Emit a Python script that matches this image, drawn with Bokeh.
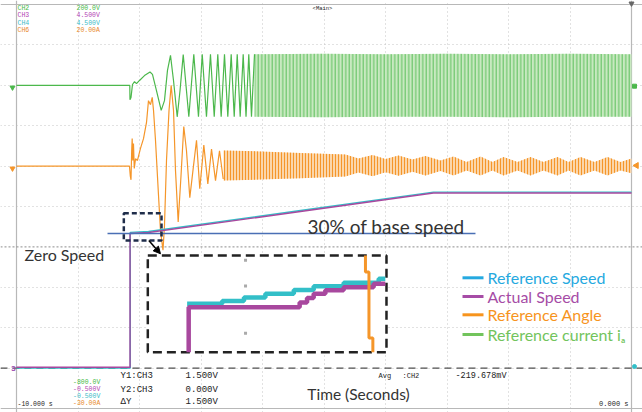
from bokeh.plotting import figure
from bokeh.models import Range1d, Label, Arrow, NormalHead, Span, Grid, FixedTicker
from bokeh.embed import file_html
from bokeh.resources import INLINE

# ---------------- scope settings ----------------
T_RANGE = (-10.0, 0.0)          # s, full screen
CH2_LIMITS = (-800.0, 200.0)    # V  (lower, upper)
SPD_LIMITS = (-0.5, 4.5)        # V  CH3 / CH4 (lower, upper)
CH6_LIMITS = (-30.0, 20.0)      # A  (lower, upper)
N_DIV = 10
GRID_T = [-9, -8, -7, -6, -5, -4, -3, -2, -1]
GRID_DIV = [1, 2, 3, 5, 6, 7, 8, 9]
CURSOR_Y1 = 1.5
CURSOR_Y2 = 0.0

# ---------------- CH2 (green) ----------------
G_T = [-10.0, -8.158, -8.155, -8.138, -8.114, -8.081, -8.049, -8.000, -7.919, -7.829,
       -7.789, -7.724, -7.647, -7.594, -7.545, -7.496, -7.447, -7.387, -7.341, -7.289,
       -7.198, -7.117, -7.041, -6.980, -6.911, -6.846, -6.785, -6.727, -6.672, -6.618,
       -6.564, -6.509, -6.460, -6.411, -6.363, -6.314, -6.268, -6.223, -6.179, -6.130]
G_V = [0, 0, -36, -30, 2, 9, 4, 12, 24, 33,
       27, -13, -62, -38, 37, 74, 12, -78, -13, 76,
       -78, 77, -78, 77, -78, 77, -78, 77, -78, 77,
       -78, 77, -78, 77, -78, 77, -78, 77, -78, 77]
G_BAND_T = [-6.130, -5.0, -4.0, -3.0, -2.0, -1.0, 0.0]
G_BAND_HI = [77, 78, 77, 78, 77, 78, 77]
G_BAND_LO = [-78, -79, -78, -78, -79, -78, -78]

# ---------------- CH6 (orange) ----------------
O_T = [-10.0, -8.163, -8.150, -8.138, -8.127, -8.119, -8.109, -8.098, -8.085, -8.065,
       -8.033, -7.984, -7.935, -7.886, -7.854, -7.821, -7.793, -7.772, -7.740, -7.691,
       -7.659, -7.618, -7.594, -7.561, -7.520, -7.485, -7.447, -7.415, -7.371, -7.325,
       -7.280, -7.236, -7.182, -7.130, -7.073, -7.020, -6.954, -6.889, -6.829, -6.764,
       -6.699, -6.639]
O_A = [0, 0, -1.2, -1.7, 1.9, 3.4, 0.7, 2.8, -0.3, 0.9,
       0.7, 2.2, 3.4, 5.4, 8.1, 7.6, 8.5, 6.9, 3.2, -3.6,
       -8.0, -10.4, -7.4, 0.7, 6.9, 10.0, 6.9, -0.5, -6.9, -1.2,
       4.9, 1.9, -3.9, -0.5, 3.2, -2.8, 2.6, -2.2, 2.1, -1.8,
       1.9, -1.6]
O_BAND_T = [-6.634, -6.033, -5.382, -4.650, -4.439, -4.211, -4.000, -3.789, -3.561, -3.350,
            -3.106, -2.894, -2.683, -2.455, -2.260, -2.081, -1.854, -1.642, -1.431, -1.203,
            -1.024, -0.829, -0.602, -0.390, -0.179, 0.0]
O_BAND_HI = [1.93, 1.81, 1.62, 1.44, 0.94, 1.37, 0.88, 1.31, 0.82, 1.25,
             0.69, 1.19, 0.51, 1.19, 0.51, 1.13, 0.51, 1.13, 0.51, 1.13,
             0.51, 1.13, 0.51, 1.13, 0.51, 0.94]
O_BAND_LO = [-1.78, -1.66, -1.49, -1.30, -0.80, -1.25, -0.75, -1.20, -0.70, -1.17,
             -0.60, -1.16, -0.55, -1.16, -0.55, -1.16, -0.55, -1.16, -0.55, -1.16,
             -0.55, -1.16, -0.55, -1.16, -0.55, -0.90]

# ---------------- speed (CH3 actual, CH4 reference) ----------------
ACT_T = [-10.0, -8.154, -8.154, -7.854, -5.382, -3.220, 0.0]
ACT_V = [0.01, 0.01, 1.666, 1.678, 1.938, 2.167, 2.167]
REF_T = [-10.0, -8.150, -8.150, -7.854, -5.382, -3.220, 0.0]
REF_V = [0.0, 0.0, 1.680, 1.690, 1.950, 2.178, 2.178]
BASE30_T = (-8.520, -2.537)
BASE30_V = 1.666

# ---------------- zoom window and inset ----------------
ZOOM_T = (-8.255, -7.642)
ZOOM_V = (1.579, 1.917)
INSET_T = (-7.865, -3.984)
INSET_V = (0.197, 1.394)
ARROW_FROM = (-7.849, 1.579)
ARROW_TO = (-7.659, 1.415)

IN_REF_T = [-8.154, -8.064, -8.008, -7.953, -7.880, -7.829, -7.752, -7.662, -7.645]
IN_REF_V = [1.748, 1.758, 1.770, 1.783, 1.796, 1.809, 1.822, 1.836, 1.836]
IN_ACT_T = [-8.150, -8.150, -7.865, -7.846, -7.829, -7.799, -7.752, -7.675, -7.645]
IN_ACT_V = [1.579, 1.736, 1.753, 1.768, 1.783, 1.795, 1.806, 1.818, 1.818]
IN_ANG_T = [-7.696, -7.696, -7.687, -7.687, -7.677, -7.677]
IN_ANG_V = [1.917, 1.859, 1.859, 1.629, 1.629, 1.579]
IN_DOT_T = [-8.004, -8.004, -8.004]
IN_DOT_V = [1.900, 1.810, 1.645]

LEGEND_LABELS = ["Reference Speed", "Actual Speed", "Reference Angle", "Reference current i\u2090"]
LEGEND_COLORS = ["#25A9E0", "#A64CA6", "#F7941D", "#72C45C"]

C_GREEN = "#4cb84c"
C_ORANGE = "#f5962a"
C_PURPLE = "#a8489e"
C_CYAN = "#33bfc8"

# ---------------- layout helpers (reference pixels -> data) ----------------
W, H = 642, 412
PX_L, PX_R, PX_T, PX_B = 16, 631, 4, 408


def tx(px):
    return T_RANGE[0] + (px - PX_L) * (T_RANGE[1] - T_RANGE[0]) / (PX_R - PX_L)


def dy(py):
    return (PX_B - py) * N_DIV / (PX_B - PX_T)


def lin(v, a0, a1, b0, b1):
    return b0 + (v - a0) * (b1 - b0) / (a1 - a0)


x_range = Range1d(tx(0), tx(W))
y_range = Range1d(dy(H), dy(0))


def chan_range(lims):
    lo, hi = lims
    return Range1d(lo + y_range.start * (hi - lo) / N_DIV, lo + y_range.end * (hi - lo) / N_DIV)


spd_range = chan_range(SPD_LIMITS)
ix_range = Range1d(lin(x_range.start, *INSET_T, *ZOOM_T), lin(x_range.end, *INSET_T, *ZOOM_T))
iy_range = Range1d(lin(spd_range.start, *INSET_V, *ZOOM_V), lin(spd_range.end, *INSET_V, *ZOOM_V))

p = figure(width=W, height=H, output_backend="svg", toolbar_location=None,
           x_range=x_range, y_range=y_range, min_border=0,
           x_axis_location=None, y_axis_location=None, outline_line_color=None,
           background_fill_color="white", border_fill_color="white")
p.grid.visible = False
p.extra_y_ranges = {"ch2": chan_range(CH2_LIMITS), "ch6": chan_range(CH6_LIMITS),
                    "spd": spd_range, "iy": iy_range}
p.extra_x_ranges = {"ix": ix_range}

# grid
p.add_layout(Grid(dimension=0, ticker=FixedTicker(ticks=GRID_T), grid_line_color="#c4c4c4",
                  grid_line_dash="1 3", grid_line_width=1))
p.add_layout(Grid(dimension=1, ticker=FixedTicker(ticks=GRID_DIV), grid_line_color="#c4c4c4",
                  grid_line_dash="1 3", grid_line_width=1))
# frame borders
for loc in T_RANGE:
    p.add_layout(Span(location=loc, dimension="height", line_color="#b8b8b8", line_width=1.2, level="underlay"))
for loc in (0, N_DIV):
    p.add_layout(Span(location=loc, dimension="width", line_color="#b8b8b8", line_width=1.2, level="underlay"))
# cursors
p.add_layout(Span(location=CURSOR_Y1, dimension="width", y_range_name="spd", line_color="#8c8c8c",
                  line_dash="2 2", line_width=1, level="underlay"))
p.add_layout(Span(location=CURSOR_Y2, dimension="width", y_range_name="spd", line_color="#505050",
                  line_dash="7 5", line_width=1.2, level="underlay"))

# green trace
p.varea(x=G_BAND_T, y1=G_BAND_LO, y2=G_BAND_HI, y_range_name="ch2", fill_color="#c8e9c0",
        hatch_pattern="|", hatch_color="#5cbf5c", hatch_scale=3.5, hatch_weight=1.0)
p.line(G_T, G_V, y_range_name="ch2", line_color=C_GREEN, line_width=1.2)

# orange trace
p.varea(x=O_BAND_T, y1=O_BAND_LO, y2=O_BAND_HI, y_range_name="ch6", fill_color="#fbd6aa",
        hatch_pattern="|", hatch_color=C_ORANGE, hatch_scale=3, hatch_weight=1.0)
p.line(O_T, O_A, y_range_name="ch6", line_color=C_ORANGE, line_width=1.2)

# speed traces
p.line(REF_T, REF_V, y_range_name="spd", line_color=C_CYAN, line_width=1.4)
p.line(ACT_T, ACT_V, y_range_name="spd", line_color=C_PURPLE, line_width=1.4)
p.line(list(BASE30_T), [BASE30_V, BASE30_V], y_range_name="spd", line_color="#4a6fb5", line_width=1.5)

# zoom window
p.quad(left=ZOOM_T[0], right=ZOOM_T[1], bottom=ZOOM_V[0], top=ZOOM_V[1], y_range_name="spd",
       fill_alpha=0, line_color="#1f2d4a", line_dash="5 3", line_width=2.5)
# inset box
p.quad(left=INSET_T[0], right=INSET_T[1], bottom=INSET_V[0], top=INSET_V[1], y_range_name="spd",
       fill_color="white", line_color="#222222", line_dash="9 5", line_width=2.5)
p.scatter(IN_DOT_T, IN_DOT_V, x_range_name="ix", y_range_name="iy", marker="square", size=3,
          fill_color="#aaaaaa", line_color=None)
p.step(IN_REF_T, IN_REF_V, mode="after", x_range_name="ix", y_range_name="iy",
       line_color=C_CYAN, line_width=4.5)
p.step(IN_ACT_T, IN_ACT_V, mode="after", x_range_name="ix", y_range_name="iy",
       line_color=C_PURPLE, line_width=4.5)
p.line(IN_ANG_T, IN_ANG_V, x_range_name="ix", y_range_name="iy", line_color=C_ORANGE, line_width=3)

p.add_layout(Arrow(x_start=ARROW_FROM[0], y_start=ARROW_FROM[1], x_end=ARROW_TO[0], y_end=ARROW_TO[1],
                   y_range_name="spd", line_color="black", line_width=1.5,
                   end=NormalHead(size=7, fill_color="black", line_color="black")))

# channel markers
p.scatter([tx(12)], [dy(87)], marker="inverted_triangle", size=5, color=C_GREEN)
p.scatter([tx(12)], [dy(168)], marker="inverted_triangle", size=5, color=C_ORANGE)
p.scatter([tx(634)], [dy(85.7)], marker="square", size=4, color=C_GREEN)
p.scatter([tx(636)], [dy(165)], marker="triangle", angle=1.5708, size=6, color=C_ORANGE)
p.scatter([tx(634)], [dy(366)], marker="circle", size=4, color=C_CYAN)
p.scatter([tx(631)], [dy(3)], marker="inverted_triangle", size=5, color="#666666")


def lab(text, px, py, size, color="#222222", font="Liberation Mono", align="left", style="normal"):
    p.add_layout(Label(x=tx(px), y=dy(py), text=text, text_font=font, text_font_size=size,
                       text_color=color, text_align=align, text_baseline="middle",
                       text_font_style=style))


# channel table
for row, (ch, val, col) in enumerate([("CH2", "200.0V", "#46b946"), ("CH3", "4.500V", "#b444b4"),
                                      ("CH4", "4.500V", "#3cbcc8"), ("CH6", "20.00A", "#e8892a")]):
    lab(ch, 17, 7.8 + row * 7.5, "6.5px", col)
    lab(val, 76, 7.8 + row * 7.5, "6.5px", col)
lab("<Main>", 322, 8, "5.5px", align="center")
lab("3", 10.5, 368, "8px", "#9a4ab0", style="bold")

for row, (val, col) in enumerate([("-800.0V", "#46b946"), ("-0.500V", "#b444b4"),
                                  ("-0.500V", "#3cbcc8"), ("-30.00A", "#e8892a")]):
    lab(val, 72.5, 382 + row * 7.0, "6.5px", col)
lab("-10.000 s", 17, 404, "6.5px")
lab("Y1:CH3", 120, 375.5, "9px")
lab("Y2:CH3", 120, 389, "9px")
lab("\u0394Y", 120, 401, "9px")
lab("1.500V", 185, 375.5, "9px")
lab("0.000V", 185, 389, "9px")
lab("1.500V", 185, 401, "9px")
lab("Avg", 378, 375, "7px")
lab(":CH2", 402, 375, "7px")
lab("-219.678mV", 455, 375, "8.5px")
lab("0.000 s", 628, 403.5, "7px", align="right")

# annotations
SANS = "Lato"
lab("Zero Speed", 24, 254, "16px", "#333333", SANS)
lab("30% of base speed", 307, 226, "19px", "#333333", SANS)
lab("Time (Seconds)", 358, 393, "15.5px", "#333333", SANS, align="center")

# legend
LEG_ROWS = [277.3, 296, 314.3, 334]
p.segment(x0=[tx(462)] * 4, x1=[tx(483)] * 4, y0=[dy(r) for r in LEG_ROWS], y1=[dy(r) for r in LEG_ROWS],
          line_color=LEGEND_COLORS, line_width=3)
for txt, col, r in zip(LEGEND_LABELS, LEGEND_COLORS, LEG_ROWS):
    lab(txt, 487, r, "16px", col, SANS)

open("out.html", "w").write(file_html(p, INLINE))
